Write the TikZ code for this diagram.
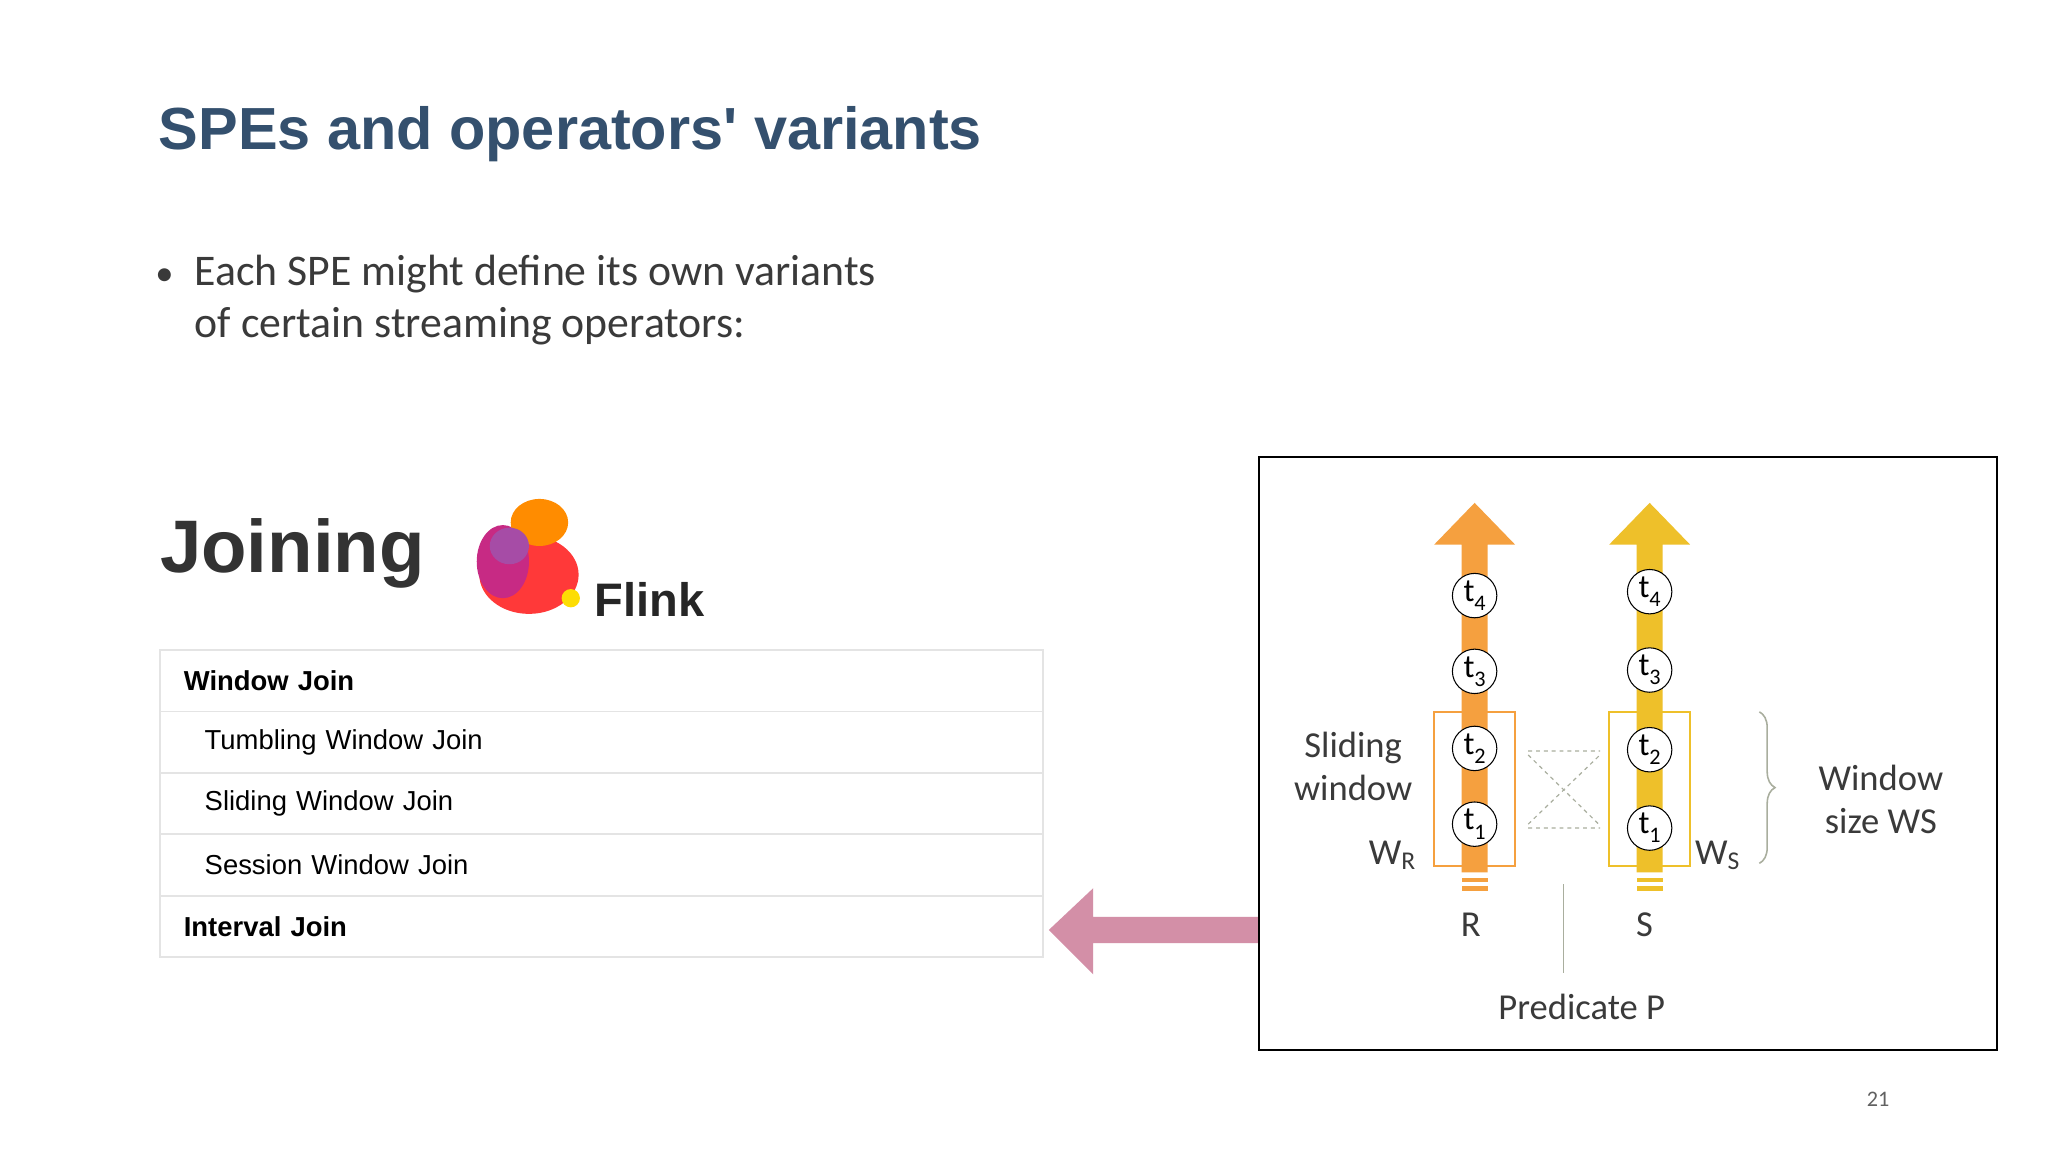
\documentclass[tikz,border=0pt]{standalone}
\usepackage{fontspec}
\setmainfont{Carlito}
\newfontfamily\arialf{Liberation Sans}
\usetikzlibrary{shapes.geometric,decorations.pathreplacing}
\definecolor{titleblue}{HTML}{34506E}
\definecolor{txt}{HTML}{3A3A3A}
\definecolor{rorange}{HTML}{F5A03F}
\definecolor{syellow}{HTML}{EEC02A}
\definecolor{pinkarr}{HTML}{D38FA7}
\definecolor{tblline}{HTML}{E4E4E4}
\definecolor{grayline}{HTML}{A9AE9E}
\newcommand\tsub[1]{t\raisebox{-7pt}{\fontsize{17}{17}\selectfont #1}}
\tikzset{
  tev/.style={circle,draw=black,thick,fill=white,minimum size=34pt,inner sep=0pt,font=\fontsize{25}{25}\selectfont},
  row/.style={draw=tblline,line width=1.5pt,minimum width=676pt,minimum height=47pt,anchor=north west,text width=640pt,align=left,font=\arialf\fontsize{21}{21}\selectfont,text=black},
  lbl/.style={font=\fontsize{28}{33}\selectfont,text=txt,align=center},
}
\begin{document}
\begin{tikzpicture}[x=1pt,y=-1pt]
\useasboundingbox[fill=white] (0,0) rectangle (1568,882);
\node[anchor=west,font=\arialf\bfseries\fontsize{45.5}{46}\selectfont,text=titleblue] (title) at (118,103) {SPEs and operators' variants};
\node[font=\fontsize{28}{28}\selectfont,text=txt] (dot) at (126,212) {\textbullet};
\node[anchor=west,inner sep=0pt,font=\fontsize{33.5}{40}\selectfont,text=txt,align=left] (bul) at (149,230) {Each SPE might define its own variants\\of certain streaming operators:};
\node[anchor=west,font=\arialf\bfseries\fontsize{57}{57}\selectfont,text=black!80] (join) at (119,424) {Joining};
% squirrel approximation
\begin{scope}[shift={(405,430)}]
\fill[red!70!pink] (0,10) ellipse (38pt and 30pt);
\fill[magenta!60!violet] (-20,0) ellipse (20pt and 28pt);
\fill[orange!90!yellow] (8,-30) ellipse (22pt and 18pt);
\fill[violet!70] (-15,-12) ellipse (15pt and 14pt);
\fill[yellow!80!orange] (32,28) circle (7pt);
\end{scope}
\node[anchor=west,font=\arialf\bfseries\fontsize{36}{36}\selectfont,text=black!85] (flink) at (452,459) {Flink};
\node[row] (r1) at (122,497) {\bfseries Window Join};
\node[row] (r2) at (122,544) {\hspace*{16pt}Tumbling Window Join};
\node[row] (r3) at (122,591) {\hspace*{16pt}Sliding Window Join};
\node[row] (r4) at (122,638) {\hspace*{16pt}Session Window Join};
\node[row] (r5) at (122,685) {\bfseries Interval Join};
% box
\node[draw=black,line width=1.5pt,minimum width=565pt,minimum height=454pt,anchor=north west] (box) at (963,349) {};
\fill[pinkarr] (963,702) -- (837,702) -- (837,680) -- (803,712) -- (837,746) -- (837,722) -- (963,722) -- cycle;
% streams
\foreach \cx/\col/\nm in {1129/rorange/R,1263/syellow/S}{
  \fill[\col] (\cx-10,668) -- (\cx-10,417) -- (\cx-31,417) -- (\cx,385) -- (\cx+31,417) -- (\cx+10,417) -- (\cx+10,668) -- cycle;
  \fill[\col] (\cx-10,672) rectangle (\cx+10,675);
  \fill[\col] (\cx-10,678) rectangle (\cx+10,682);
  \draw[\col,line width=1.2pt] (\cx-31,545) rectangle (\cx+31,663);
}
\node[tev] (r4c) at (1129,456) {\tsub4};
\node[tev] (r3c) at (1129,514) {\tsub3};
\node[tev] (r2c) at (1129,573) {\tsub2};
\node[tev] (r1c) at (1129,631) {\tsub1};
\node[tev] (s4c) at (1263,453) {\tsub4};
\node[tev] (s3c) at (1263,513) {\tsub3};
\node[tev] (s2c) at (1263,574) {\tsub2};
\node[tev] (s1c) at (1263,634) {\tsub1};
\draw[grayline,dashed,line width=0.9pt] (1170,575) -- (1225,575) (1170,634) -- (1225,634) (1170,578) -- (1225,632) (1170,631) -- (1225,578);
\draw[grayline,line width=0.9pt] (1197,677) -- (1197,745);
\draw[grayline,line width=1.2pt,decorate,decoration={brace,amplitude=12pt}] (1347,545) -- (1347,661);
\node[lbl] (sw) at (1036,587) {Sliding\\window};
\node[lbl] (wr) at (1066,655) {W\textsubscript{R}};
\node[lbl] (ws) at (1315,655) {W\textsubscript{S}};
\node[lbl] (rl) at (1126,708) {R};
\node[lbl] (sl) at (1259,708) {S};
\node[lbl] (wsz) at (1440,612) {Window\\size WS};
\node[lbl] (pp) at (1211,771) {Predicate P};
\node[font=\fontsize{17}{17}\selectfont,text=txt!80] (pg) at (1438,842) {21};
\end{tikzpicture}
\end{document}
